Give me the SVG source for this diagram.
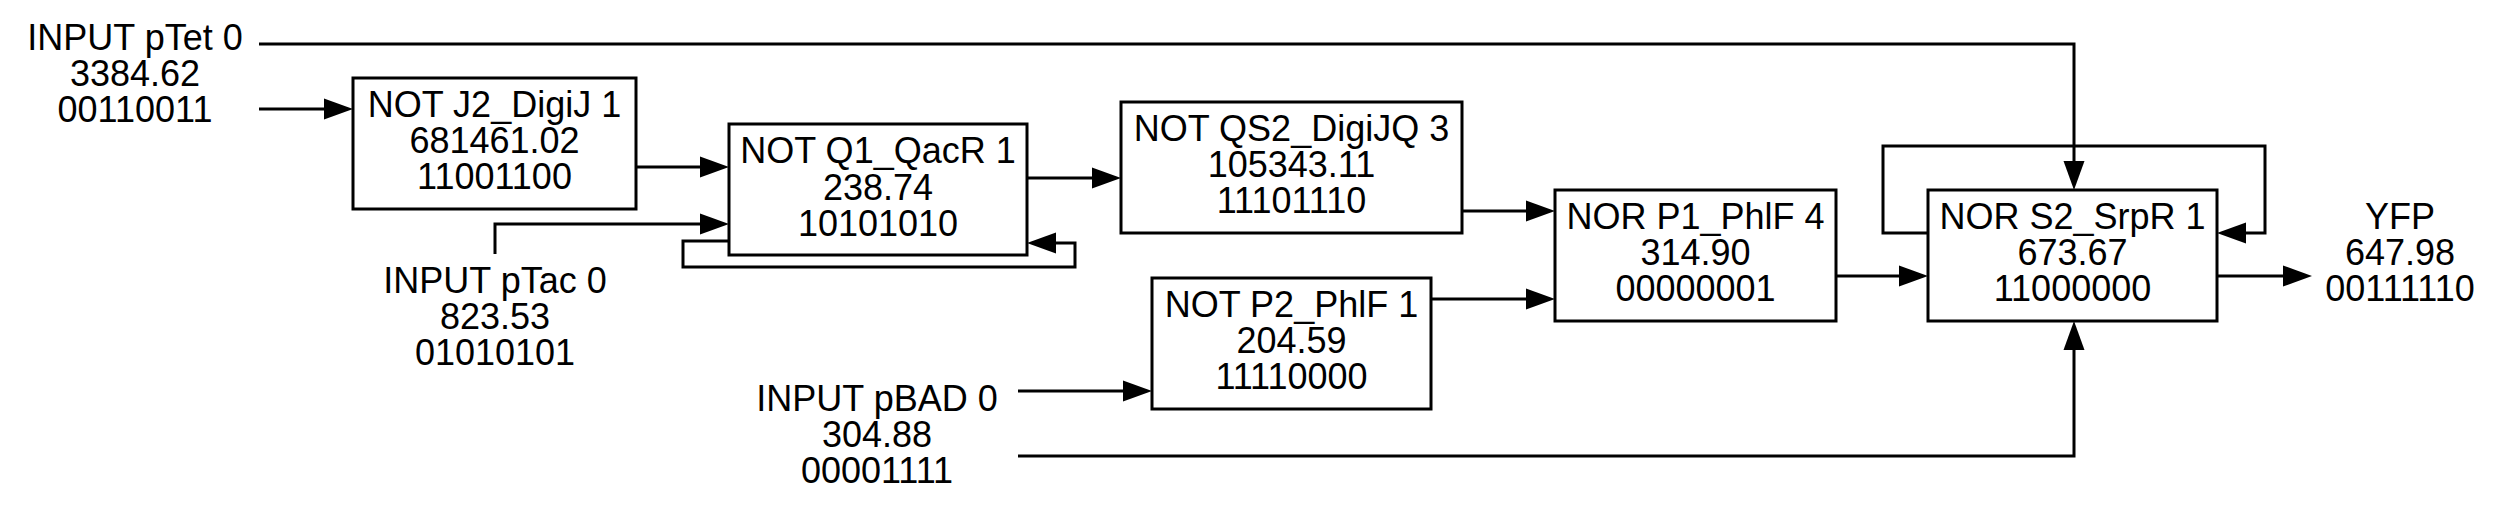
<svg xmlns="http://www.w3.org/2000/svg" width="2502" height="512" viewBox="0 0 2502 512">
<style>
.box{fill:#fff;stroke:#000;stroke-width:3}
.edge{fill:none;stroke:#000;stroke-width:3}
text{font-family:"Liberation Sans",Arial,sans-serif;font-size:36px;text-anchor:middle;fill:#000}
</style>
<defs>
<marker id="ah" markerUnits="userSpaceOnUse" markerWidth="30" markerHeight="22" refX="0" refY="10.5" orient="auto" overflow="visible">
<path d="M0,0 L29,10.5 L0,21 z" fill="#000"/>
</marker>
</defs>
<rect width="2502" height="512" fill="#fff"/>
<g id="connectors">
<path class="edge" marker-end="url(#ah)" d="M259,44 H2074 V161"/>
<path class="edge" marker-end="url(#ah)" d="M259,109 H324"/>
<path class="edge" marker-end="url(#ah)" d="M636,167 H700"/>
<path class="edge" marker-end="url(#ah)" d="M495,254 V224 H700"/>
<path class="edge" marker-end="url(#ah)" d="M729,241 H683 V267 H1075 V243 H1056"/>
<path class="edge" marker-end="url(#ah)" d="M1027,178 H1092"/>
<path class="edge" marker-end="url(#ah)" d="M1462,211 H1526"/>
<path class="edge" marker-end="url(#ah)" d="M1431,299 H1526"/>
<path class="edge" marker-end="url(#ah)" d="M1018,391 H1123"/>
<path class="edge" marker-end="url(#ah)" d="M1018,456 H2074 V350"/>
<path class="edge" marker-end="url(#ah)" d="M1836,276 H1899"/>
<path class="edge" marker-end="url(#ah)" d="M1928,233 H1883 V146 H2265 V233 H2246"/>
<path class="edge" marker-end="url(#ah)" d="M2217,276 H2283"/>
</g>
<g id="pTet">
<text x="135" y="50">INPUT pTet 0</text>
<text x="135" y="86">3384.62</text>
<text x="135" y="122">00110011</text>
</g>
<g id="J2">
<rect class="box" x="353" y="78" width="283" height="131"/>
<text x="494.5" y="117">NOT J2_DigiJ 1</text>
<text x="494.5" y="153">681461.02</text>
<text x="494.5" y="189">11001100</text>
</g>
<g id="pTac">
<text x="495" y="293">INPUT pTac 0</text>
<text x="495" y="329">823.53</text>
<text x="495" y="365">01010101</text>
</g>
<g id="Q1">
<rect class="box" x="729" y="124" width="298" height="131"/>
<text x="878" y="163">NOT Q1_QacR 1</text>
<text x="878" y="199.5">238.74</text>
<text x="878" y="235.5">10101010</text>
</g>
<g id="QS2">
<rect class="box" x="1121" y="102" width="341" height="131"/>
<text x="1291.5" y="141">NOT QS2_DigiJQ 3</text>
<text x="1291.5" y="177">105343.11</text>
<text x="1291.5" y="213">11101110</text>
</g>
<g id="P2">
<rect class="box" x="1152" y="278" width="279" height="131"/>
<text x="1291.5" y="317">NOT P2_PhlF 1</text>
<text x="1291.5" y="353">204.59</text>
<text x="1291.5" y="389">11110000</text>
</g>
<g id="pBAD">
<text x="877" y="411">INPUT pBAD 0</text>
<text x="877" y="447">304.88</text>
<text x="877" y="483">00001111</text>
</g>
<g id="P1">
<rect class="box" x="1555" y="190" width="281" height="131"/>
<text x="1695.5" y="229">NOR P1_PhlF 4</text>
<text x="1695.5" y="265">314.90</text>
<text x="1695.5" y="301">00000001</text>
</g>
<g id="S2">
<rect class="box" x="1928" y="190" width="289" height="131"/>
<text x="2072.5" y="229">NOR S2_SrpR 1</text>
<text x="2072.5" y="265">673.67</text>
<text x="2072.5" y="301">11000000</text>
</g>
<g id="YFP">
<text x="2400" y="229">YFP</text>
<text x="2400" y="265">647.98</text>
<text x="2400" y="301">00111110</text>
</g>
</svg>
